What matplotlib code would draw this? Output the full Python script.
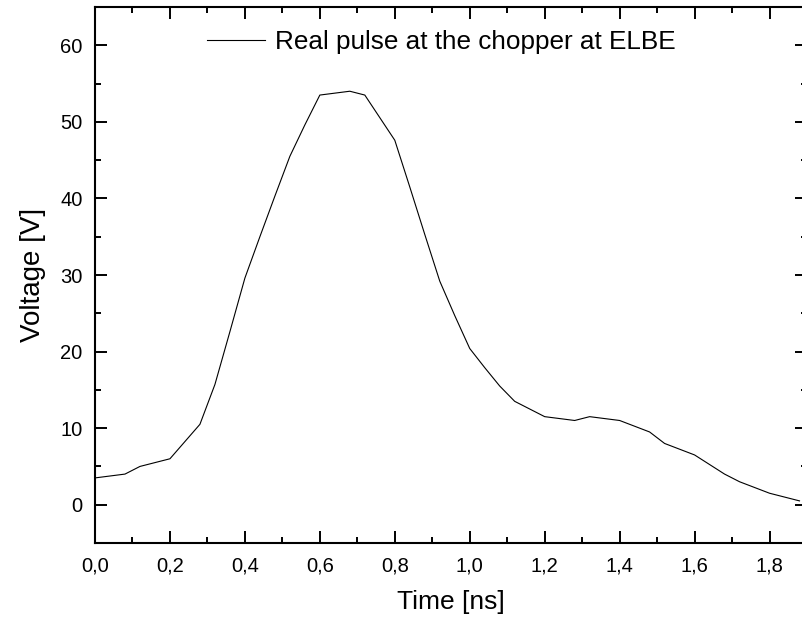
import matplotlib
matplotlib.use('Agg')
import matplotlib.pyplot as plt
from matplotlib.ticker import MultipleLocator, FuncFormatter

plt.rcParams['font.family'] = ['Liberation Sans', 'DejaVu Sans']

# pulse shape
time_ns = [0.00, 0.08, 0.12, 0.20, 0.28, 0.32, 0.36, 0.40, 0.44, 0.48, 0.52, 0.56,
           0.60, 0.68, 0.72, 0.80, 0.84, 0.88, 0.92, 0.96, 1.00, 1.04, 1.08, 1.12,
           1.20, 1.28, 1.32, 1.40, 1.48, 1.52, 1.60, 1.68, 1.72, 1.80, 1.88]
voltage = [3.5, 4.0, 5.0, 6.0, 10.5, 15.7, 22.6, 29.6, 35.0, 40.3, 45.5, 49.6,
           53.5, 54.0, 53.5, 47.6, 41.5, 35.3, 29.2, 24.7, 20.4, 17.9, 15.5, 13.5,
           11.5, 11.0, 11.5, 11.0, 9.5, 8.0, 6.5, 4.0, 3.0, 1.5, 0.5]

fig = plt.figure(figsize=(8.03, 6.22), dpi=100)
ax = fig.add_axes([95 / 803, 1 - 543 / 622, 712 / 803, 536 / 622])

ax.plot(time_ns, voltage, color='black', lw=0.8, label='Real pulse at the chopper at ELBE')

ax.set_xlim(0, 1.9)
ax.set_ylim(-5, 65)
ax.xaxis.set_major_locator(MultipleLocator(0.2))
ax.xaxis.set_minor_locator(MultipleLocator(0.1))
ax.yaxis.set_major_locator(MultipleLocator(10))
ax.yaxis.set_minor_locator(MultipleLocator(5))
ax.xaxis.set_major_formatter(FuncFormatter(lambda v, p: f'{v:.1f}'.replace('.', ',')))
ax.yaxis.set_major_formatter(FuncFormatter(lambda v, p: f'{v:.0f}'))

ax.tick_params(which='both', direction='in', top=True, right=True, width=1.4, labelsize=14.5)
ax.tick_params(which='major', length=8.5, pad=10)
ax.tick_params(which='minor', length=4.5)
ax.tick_params(axis='y', which='major', pad=9)
for s in ax.spines.values():
    s.set_linewidth(1.5)

ax.set_xlabel('Time [ns]', fontsize=19, labelpad=10)
ax.set_ylabel('Voltage [V]', fontsize=20, labelpad=10)

ax.legend(loc='center left', bbox_to_anchor=(207 / 803, 1 - 42 / 622),
          bbox_transform=fig.transFigure, frameon=False, fontsize=18.8,
          borderpad=0, borderaxespad=0, handlelength=2.22, handletextpad=0.38)

fig.savefig('out.png', dpi=100)
